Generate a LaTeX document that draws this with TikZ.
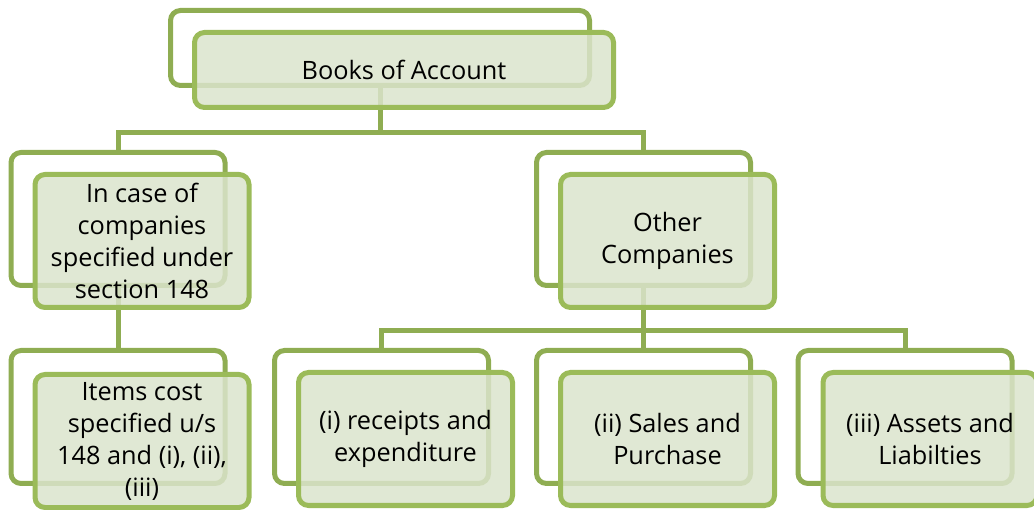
\documentclass[tikz,border=0pt]{standalone}
\usepackage{fontspec}
\setmainfont{Open Sans}
\definecolor{backc}{RGB}{143,173,82}
\definecolor{frontc}{RGB}{155,187,89}
\definecolor{fillc}{RGB}{219,228,204}
\definecolor{conc}{RGB}{143,173,82}
\tikzset{
  backbox/.style={draw=backc, line width=5pt, rounded corners=10pt, inner sep=0pt,
    minimum width=214pt, minimum height=133pt},
  frontbox/.style={draw=frontc, line width=5pt, rounded corners=10pt, inner sep=0pt,
    fill=fillc, fill opacity=0.85, text opacity=1, text=black, align=center,
    minimum width=214pt, minimum height=133pt,
    font=\fontsize{25.3}{32}\selectfont},
  conn/.style={draw=conc, line width=5pt}
}
\begin{document}
\begin{tikzpicture}[x=1pt,y=-1pt]
\useasboundingbox (0,0) rectangle (1034,510);
% back boxes
\node[backbox, minimum width=419pt, minimum height=75pt] (b0) at (380,48) {};
\node[backbox] (b1) at (118,219) {};
\node[backbox] (b2) at (643.5,219) {};
\node[backbox] (b3) at (118,417) {};
\node[backbox] (b4) at (381.5,417) {};
\node[backbox] (b5) at (643.5,417) {};
\node[backbox] (b6) at (905,417) {};
% connectors
\draw[conn] (b0.south) -- ++(0,44.5) -| (b1.north);
\draw[conn] (b0.south) -- ++(0,44.5) -| (b2.north);
\draw[conn] (b1.south) -- (b3.north);
\draw[conn] (b2.south) -- ++(0,42.5) -| (b4.north);
\draw[conn] (b2.south) -- ++(0,42.5) -| (b5.north);
\draw[conn] (b2.south) -- ++(0,42.5) -| (b6.north);
% front boxes
\node[frontbox, minimum width=419pt, minimum height=75pt] (f0) at (404,70) {Books of Account};
\node[frontbox] (f1) at (142,241) {In case of\\companies\\specified under\\section 148};
\node[frontbox] (f2) at (667.5,241) {Other\\Companies};
\node[frontbox] (f3) at (142,441) {Items cost\\specified u/s\\148 and (i), (ii),\\(iii)};
\node[frontbox] (f4) at (405.5,439) {(i) receipts and\\expenditure};
\node[frontbox] (f5) at (667.5,439) {(ii) Sales and\\Purchase};
\node[frontbox] (f6) at (930,439) {(iii) Assets and\\Liabilties};
\end{tikzpicture}
\end{document}
